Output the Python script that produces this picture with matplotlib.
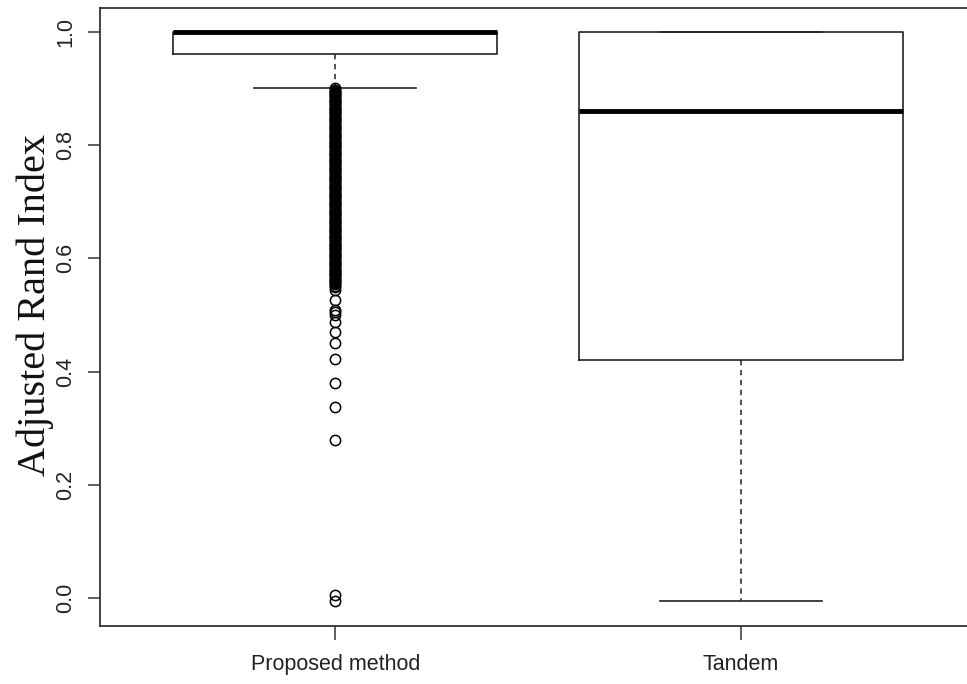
import matplotlib

matplotlib.use("Agg")
import matplotlib.pyplot as plt

# box summary values (R-style boxplot)
groups = ["Proposed method", "Tandem"]
q1 = [0.961, 0.420]
med = [1.000, 0.860]
q3 = [1.000, 1.000]
whislo = [0.901, -0.005]
whishi = [1.000, 1.000]

# outliers for the proposed method; the 0.55-0.90 band is a solid column of circles
proposed_fliers = [
    0.900, 0.898, 0.896, 0.894, 0.892, 0.890, 0.888, 0.886, 0.884, 0.882,
    0.880, 0.878, 0.876, 0.874, 0.872, 0.870, 0.868, 0.866, 0.864, 0.862,
    0.860, 0.858, 0.856, 0.854, 0.852, 0.850, 0.848, 0.846, 0.844, 0.842,
    0.840, 0.838, 0.836, 0.834, 0.832, 0.830, 0.828, 0.826, 0.824, 0.822,
    0.820, 0.818, 0.816, 0.814, 0.812, 0.810, 0.808, 0.806, 0.804, 0.802,
    0.800, 0.798, 0.796, 0.794, 0.792, 0.790, 0.788, 0.786, 0.784, 0.782,
    0.780, 0.778, 0.776, 0.774, 0.772, 0.770, 0.768, 0.766, 0.764, 0.762,
    0.760, 0.758, 0.756, 0.754, 0.752, 0.750, 0.748, 0.746, 0.744, 0.742,
    0.740, 0.738, 0.736, 0.734, 0.732, 0.730, 0.728, 0.726, 0.724, 0.722,
    0.720, 0.718, 0.716, 0.714, 0.712, 0.710, 0.708, 0.706, 0.704, 0.702,
    0.700, 0.698, 0.696, 0.694, 0.692, 0.690, 0.688, 0.686, 0.684, 0.682,
    0.680, 0.678, 0.676, 0.674, 0.672, 0.670, 0.668, 0.666, 0.664, 0.662,
    0.660, 0.658, 0.656, 0.654, 0.652, 0.650, 0.648, 0.646, 0.644, 0.642,
    0.640, 0.638, 0.636, 0.634, 0.632, 0.630, 0.628, 0.626, 0.624, 0.622,
    0.620, 0.618, 0.616, 0.614, 0.612, 0.610, 0.608, 0.606, 0.604, 0.602,
    0.600, 0.598, 0.596, 0.594, 0.592, 0.590, 0.588, 0.586, 0.584, 0.582,
    0.580, 0.578, 0.576, 0.574, 0.572, 0.570, 0.568, 0.566, 0.564, 0.562,
    0.560, 0.558, 0.556, 0.554, 0.552,
    0.549, 0.544, 0.527, 0.508, 0.505, 0.500, 0.488, 0.470, 0.451, 0.422,
    0.380, 0.337, 0.279, 0.005, -0.005,
]
tandem_fliers = []
fliers = [proposed_fliers, tandem_fliers]

yticks = [0.0, 0.2, 0.4, 0.6, 0.8, 1.0]

W, H = 967, 684
fig = plt.figure(figsize=(W / 100, H / 100), dpi=100)
ax = fig.add_axes([100 / W, 1 - 626 / H, 876 / W, 618 / H])

stats = []
for i, name in enumerate(groups):
    stats.append({
        "label": name, "q1": q1[i], "med": med[i], "q3": q3[i],
        "whislo": whislo[i], "whishi": whishi[i], "fliers": fliers[i],
    })

line_kw = dict(color="#222222", linewidth=1.2)
ax.bxp(
    stats, positions=[1, 2], widths=0.8, capwidths=0.4,
    boxprops=line_kw,
    medianprops=dict(color="black", linewidth=3.5, solid_capstyle="butt"),
    whiskerprops=dict(color="#222222", linewidth=1.1, linestyle=(0, (3.5, 3))),
    capprops=line_kw,
    flierprops=dict(marker="o", markerfacecolor="none", markeredgecolor="black",
                    markersize=7.4, markeredgewidth=1.1, linestyle="none"),
)

ax.set_xlim(0.42, 2.58)
ax.set_ylim(-0.049, 1.042)
ax.set_yticks(yticks)
ax.set_yticklabels([f"{t:.1f}" for t in yticks], rotation=90, va="center",
                   family="Liberation Sans", fontsize=15.5, color="#222222")
ax.set_xticks([1, 2])
ax.set_xticklabels(groups, family="Liberation Sans", fontsize=15.5, color="#222222")
ax.tick_params(axis="y", length=9, width=1.1, pad=8, color="#333333")
ax.tick_params(axis="x", length=10, width=1.1, pad=10, color="#333333")
for sp in ax.spines.values():
    sp.set_linewidth(1.3)
    sp.set_color("#333333")

fig.text(35 / W, 1 - 305 / H, "Adjusted Rand Index", rotation=90,
         ha="center", va="center", family="Liberation Serif", fontsize=29,
         color="#111111")

fig.savefig("out.png", dpi=100)
